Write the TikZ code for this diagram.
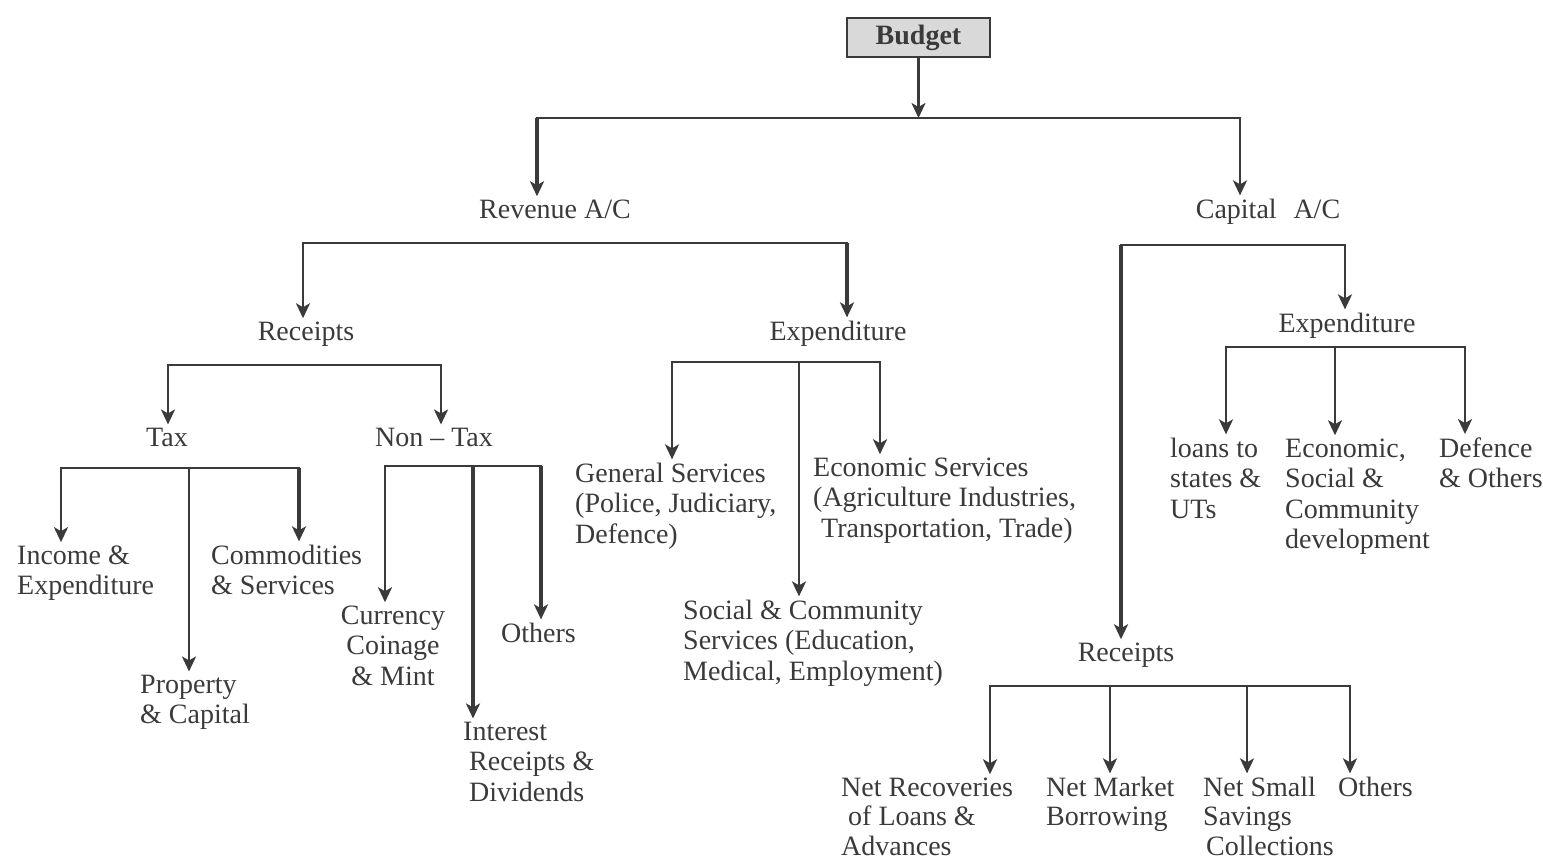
\documentclass[tikz,border=0pt]{standalone}
\usepackage{fontspec}
\setmainfont{Liberation Serif}
\usetikzlibrary{arrows.meta}
\definecolor{linec}{HTML}{3A3A3A}
\definecolor{txtc}{HTML}{3A3A3A}
\definecolor{boxfill}{HTML}{D9D9D9}
\begin{document}
\begin{tikzpicture}[x=1pt,y=-1pt,
  lbl/.style={inner sep=3pt,text=txtc,font=\fontsize{28}{30.5}\selectfont},
  lblL/.style={lbl,align=left,anchor=base west},
  lblC/.style={lbl,anchor=base},
  tight/.style={font=\fontsize{28}{29.5}\selectfont},
  bus/.style={draw=linec,line width=2.6pt,line cap=rect},
  arr/.style={draw=linec,line width=2.6pt,-{Stealth[length=15pt,width=14pt,inset=4pt]}},
  arrthick/.style={arr,line width=3.8pt},
  budgetbox/.style={draw=linec,line width=1.6pt,fill=boxfill,minimum width=143pt,minimum height=39pt,inner sep=0pt,font=\fontsize{28}{30}\selectfont\bfseries,text=txtc}]
\useasboundingbox (0,0) rectangle (1543,862);

% ---------- nodes (multi-line nodes are placed by the baseline of their last line) ----------
\node[budgetbox] (budget) at (918.5,37.5) {Budget};

\node[lblC] (revenue) at (555,218) {Revenue A/C};
\node[lblC] (capital) at (1268,218) {Capital\hspace{0.6em}A/C};

\node[lblC] (rreceipts) at (306,340) {Receipts};
\node[lblC] (rexp) at (838,340) {Expenditure};

\node[lblC] (tax) at (167,446) {Tax};
\node[lblC] (nontax) at (434,446) {Non -- Tax};

\node[lblL] (income) at (14,594.5) {Income \&\\Expenditure};
\node[lblL] (commod) at (208,594.5) {Commodities\\\& Services};
\node[lblL] (property) at (137,723.5) {Property\\\& Capital};

\node[lbl,align=center,anchor=base] (currency) at (393,685) {Currency\\Coinage\\\& Mint};
\node[lblL] (others1) at (498,642) {Others};
\node[lblL] (interest) at (460,801) {Interest\\\hspace{6pt}Receipts \&\\\hspace{6pt}Dividends};

\node[lblL] (general) at (572,543) {General Services\\(Police, Judiciary,\\Defence)};
\node[lblL] (economic) at (810,537) {Economic Services\\(Agriculture Industries,\\\hspace{8pt}Transportation, Trade)};
\node[lblL] (social) at (680,680) {Social \& Community\\Services (Education,\\Medical, Employment)};

\node[lblC] (cexp) at (1347,332) {Expenditure};
\node[lblL] (loans) at (1167,518) {loans to\\states \&\\UTs};
\node[lblL] (econ2) at (1282,548.5) {Economic,\\Social \&\\Community\\development};
\node[lblL] (defence) at (1436,487.5) {Defence\\\& Others};

\node[lblC] (creceipts) at (1126,661) {Receipts};
\node[lblL,tight] (netrec) at (838,855) {Net Recoveries\\\hspace{7pt}of Loans \&\\Advances};
\node[lblL,tight] (netmkt) at (1043,825.5) {Net Market\\Borrowing};
\node[lblL,tight] (netsmall) at (1200,855) {Net Small\\Savings\\\hspace{3pt}Collections};
\node[lblL,tight] (others2) at (1335,796) {Others};

% ---------- bus coordinates ----------
\coordinate (tL) at (537,118);   \coordinate (tR) at (1240,118);
\coordinate (rL) at (303,243);   \coordinate (rR) at (847,243);
\coordinate (pL) at (168,365);   \coordinate (pR) at (441,365);
\coordinate (xL) at (61,468);    \coordinate (xM) at (189,468);   \coordinate (xR) at (299,468);
\coordinate (nL) at (385,466);   \coordinate (nM) at (473,466);   \coordinate (nR) at (541,466);
\coordinate (eL) at (672,362);   \coordinate (eM) at (799,362);   \coordinate (eR) at (880,362);
\coordinate (cL) at (1121,245);  \coordinate (cR) at (1345,245);
\coordinate (kL) at (1226,347);  \coordinate (kM) at (1335,347);  \coordinate (kR) at (1465,347);
\coordinate (sA) at (990,686);   \coordinate (sB) at (1110,686);  \coordinate (sC) at (1247,686);  \coordinate (sD) at (1350,686);

% ---------- connectors ----------
\draw[arr] (budget.south) -- (budget.south |- tL);
\draw[bus] (tL) -- (tR);
\draw[arrthick] (tL) -- (tL |- revenue.north);
\draw[arr] (tR) -- (tR |- capital.north);

\draw[bus] (rL) -- (rR);
\draw[arr] (rL) -- (rL |- rreceipts.north);
\draw[arrthick] (rR) -- (rR |- rexp.north);

\draw[bus] (pL) -- (pR);
\draw[arr] (pL) -- (pL |- tax.north);
\draw[arr] (pR) -- (pR |- nontax.north);

\draw[bus] (xL) -- (xR);
\draw[arr] (xL) -- (xL |- income.north);
\draw[arr] (xM) -- (xM |- property.north);
\draw[arrthick] (xR) -- (xR |- commod.north);

\draw[bus] (nL) -- (nR);
\draw[arr] (nL) -- (nL |- currency.north);
\draw[arrthick] (nM) -- (nM |- interest.north);
\draw[arrthick] (nR) -- (nR |- others1.north);

\draw[bus] (eL) -- (eR);
\draw[arr] (eL) -- (eL |- general.north);
\draw[arr] (eM) -- (eM |- social.north);
\draw[arr] (eR) -- (eR |- economic.north);

\draw[bus] (cL) -- (cR);
\draw[arrthick] (cL) -- (cL |- creceipts.north);
\draw[arr] (cR) -- (cR |- cexp.north);

\draw[bus] (kL) -- (kR);
\draw[arr] (kL) -- (kL |- loans.north);
\draw[arr] (kM) -- (kM |- econ2.north);
\draw[arr] (kR) -- (kR |- defence.north);

\draw[bus] (sA) -- (sD);
\draw[arr] (sA) -- (sA |- netrec.north);
\draw[arr] (sB) -- (sB |- netmkt.north);
\draw[arr] (sC) -- (sC |- netsmall.north);
\draw[arr] (sD) -- (sD |- others2.north);
\end{tikzpicture}
\end{document}
